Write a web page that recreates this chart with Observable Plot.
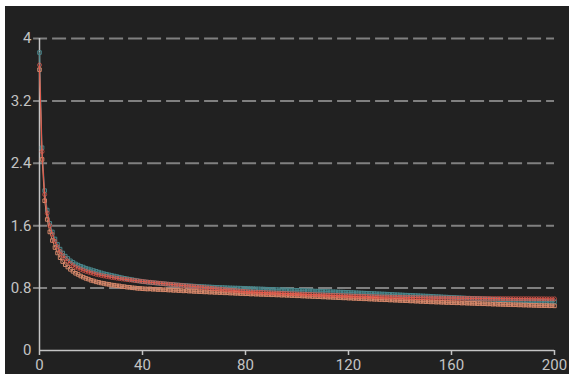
<!DOCTYPE html>
<html>
<head>
<meta charset="utf-8">
<script src="https://cdn.jsdelivr.net/npm/d3@7"></script>
<script src="https://cdn.jsdelivr.net/npm/@observablehq/plot@0.6"></script>
<style>
  html, body { margin: 0; padding: 0; background: #ffffff; }
  #chart { position: absolute; left: 5px; top: 6px; width: 564px; height: 368px; background: #212121; }
  #chart svg { display: block; background: #212121; }
</style>
</head>
<body>
<div id="chart"></div>
<script>
const xTicks = [0, 40, 80, 120, 160, 200];
const yTicks = [0, 0.8, 1.6, 2.4, 3.2, 4];

const tealLoss = [
  3.82, 2.60, 2.05, 1.80, 1.63, 1.52, 1.43, 1.36, 1.30, 1.25, 1.21,
  1.18, 1.15, 1.13, 1.11, 1.095, 1.08, 1.07, 1.055, 1.045, 1.035,
  1.025, 1.015, 1.005, 0.995, 0.985, 0.978, 0.97, 0.962, 0.955, 0.948,
  0.94, 0.933, 0.926, 0.92, 0.914, 0.908, 0.902, 0.896, 0.89, 0.884,
  0.88, 0.876, 0.873, 0.869, 0.866, 0.862, 0.859, 0.856, 0.853, 0.85,
  0.847, 0.845, 0.842, 0.84, 0.837, 0.835, 0.832, 0.83, 0.828, 0.826,
  0.824, 0.822, 0.82, 0.818, 0.816, 0.815, 0.813, 0.811, 0.81, 0.808,
  0.807, 0.806, 0.804, 0.803, 0.802, 0.801, 0.80, 0.799, 0.798, 0.797,
  0.795, 0.794, 0.793, 0.791, 0.79, 0.789, 0.788, 0.786, 0.785, 0.784,
  0.783, 0.781, 0.78, 0.779, 0.778, 0.776, 0.775, 0.774, 0.773, 0.772,
  0.77, 0.769, 0.768, 0.766, 0.765, 0.764, 0.762, 0.761, 0.76, 0.758,
  0.757, 0.756, 0.754, 0.753, 0.752, 0.75, 0.749, 0.748, 0.746, 0.745,
  0.743, 0.742, 0.74, 0.739, 0.737, 0.736, 0.734, 0.733, 0.731, 0.73, 0.728, 0.727,
  0.725, 0.724, 0.722, 0.72, 0.719, 0.717, 0.715, 0.714, 0.712, 0.71, 0.709, 0.707, 0.706, 0.704, 0.703, 0.701, 0.70, 0.698,
  0.697, 0.695, 0.693, 0.691, 0.69, 0.688, 0.686, 0.685, 0.683, 0.681, 0.68, 0.678, 0.676, 0.675, 0.673, 0.671, 0.67,
  0.668, 0.667, 0.665, 0.664, 0.662, 0.661, 0.659, 0.658, 0.656, 0.655, 0.653, 0.652, 0.65,
  0.649, 0.648, 0.646, 0.645, 0.644, 0.642, 0.641, 0.64, 0.639, 0.637, 0.636, 0.635, 0.634, 0.632, 0.631, 0.63, 0.629, 0.627, 0.626, 0.625
];

const redLoss = [
  3.66, 2.55, 2.00, 1.76, 1.60, 1.49, 1.40, 1.33, 1.27, 1.22, 1.18,
  1.145, 1.115, 1.09, 1.07, 1.055, 1.04, 1.027, 1.015, 1.005, 0.995,
  0.986, 0.977, 0.969, 0.962, 0.955, 0.949, 0.943, 0.937, 0.932, 0.927,
  0.922, 0.917, 0.913, 0.909, 0.905, 0.901, 0.897, 0.893, 0.889, 0.885,
  0.882, 0.878, 0.875, 0.871, 0.868, 0.865, 0.861, 0.858, 0.855, 0.851,
  0.848, 0.845, 0.841, 0.838, 0.835, 0.832, 0.829, 0.826, 0.823, 0.82,
  0.817, 0.813, 0.81, 0.807, 0.803, 0.8, 0.797, 0.793, 0.79, 0.787,
  0.784, 0.78, 0.777, 0.774, 0.771, 0.768, 0.765, 0.762, 0.759, 0.756,
  0.754, 0.752, 0.75, 0.749, 0.747, 0.745, 0.744, 0.742, 0.741, 0.739,
  0.738, 0.736, 0.735, 0.733, 0.732, 0.731, 0.729, 0.728, 0.727, 0.725,
  0.724, 0.723, 0.721, 0.72, 0.719, 0.718, 0.716, 0.715, 0.714, 0.713,
  0.711, 0.71, 0.709, 0.708, 0.707, 0.706, 0.704, 0.703, 0.702, 0.70,
  0.699, 0.698, 0.697, 0.696, 0.695, 0.694, 0.693, 0.692, 0.691, 0.69,
  0.689, 0.688, 0.687, 0.686, 0.686, 0.685, 0.684, 0.683, 0.683, 0.682,
  0.681, 0.68, 0.68, 0.679, 0.679, 0.678, 0.677, 0.677, 0.676, 0.676,
  0.675, 0.675, 0.674, 0.674, 0.673, 0.673, 0.672, 0.672, 0.671, 0.671,
  0.671, 0.67, 0.67, 0.67, 0.669, 0.669, 0.669, 0.668, 0.668, 0.668,
  0.668, 0.667, 0.667, 0.667, 0.667, 0.666, 0.666, 0.666, 0.666, 0.665,
  0.665, 0.665, 0.665, 0.665, 0.664, 0.664, 0.664, 0.664, 0.664, 0.664,
  0.663, 0.663, 0.663, 0.663, 0.663, 0.663, 0.662, 0.662, 0.662, 0.662
];

const orangeLoss = [
  3.60, 2.45, 1.92, 1.68, 1.52, 1.41, 1.32, 1.25, 1.19, 1.14, 1.10,
  1.07, 1.04, 1.015, 0.99, 0.975, 0.955, 0.94, 0.925, 0.915, 0.90,
  0.892, 0.88, 0.874, 0.865, 0.86, 0.852, 0.848, 0.84, 0.837, 0.83,
  0.828, 0.82, 0.818, 0.812, 0.81, 0.804, 0.802, 0.797, 0.796, 0.792,
  0.79, 0.788, 0.79, 0.785, 0.786, 0.781, 0.783, 0.778, 0.779, 0.775,
  0.776, 0.771, 0.773, 0.768, 0.769, 0.764, 0.766, 0.761, 0.762, 0.757,
  0.758, 0.754, 0.755, 0.751, 0.752, 0.748, 0.749, 0.745, 0.746, 0.742,
  0.743, 0.739, 0.74, 0.736, 0.737, 0.733, 0.734, 0.73, 0.731, 0.727,
  0.728, 0.724, 0.726, 0.722, 0.723, 0.719, 0.721, 0.717, 0.718, 0.714,
  0.716, 0.712, 0.713, 0.709, 0.711, 0.707, 0.708, 0.704, 0.705, 0.701,
  0.702, 0.698, 0.699, 0.695, 0.696, 0.692, 0.693, 0.689, 0.69, 0.686,
  0.687, 0.683, 0.684, 0.68, 0.681, 0.677, 0.678, 0.674, 0.675, 0.671,
  0.672, 0.668, 0.669, 0.665, 0.666, 0.662, 0.663, 0.659, 0.66, 0.656,
  0.657, 0.653, 0.654, 0.65, 0.651, 0.647, 0.648, 0.644, 0.645, 0.641,
  0.642, 0.638, 0.639, 0.635, 0.636, 0.632, 0.633, 0.629, 0.63, 0.626,
  0.627, 0.623, 0.624, 0.62, 0.622, 0.618, 0.619, 0.615, 0.617, 0.613,
  0.614, 0.611, 0.612, 0.608, 0.61, 0.606, 0.607, 0.604, 0.605, 0.601,
  0.603, 0.599, 0.6, 0.597, 0.598, 0.594, 0.596, 0.592, 0.593, 0.59,
  0.591, 0.588, 0.589, 0.586, 0.587, 0.584, 0.585, 0.582, 0.583, 0.58,
  0.581, 0.578, 0.579, 0.576, 0.577, 0.575, 0.576, 0.573, 0.574, 0.572
];

const toRows = (arr) => arr.map((v, i) => ({epoch: i, loss: v}));
const teal = toRows(tealLoss);
const red = toRows(redLoss);
const orange = toRows(orangeLoss);

const cTeal = "#4a878c";
const cRed = "#e4584b";
const cOrange = "#d4876a";
const axisColor = "#c4c4c4";
const fmt = d => String(d);

const plot = Plot.plot({
  width: 564,
  height: 368,
  marginLeft: 34,
  marginRight: 15,
  marginTop: 32,
  marginBottom: 24,
  style: {background: "#212121", color: axisColor, fontFamily: "Roboto, 'Open Sans', sans-serif", fontSize: "15px"},
  x: {domain: [0, 200], ticks: xTicks, label: null},
  y: {domain: [0, 4], ticks: yTicks, label: null},
  marks: [
    Plot.ruleY(yTicks.filter(d => d > 0), {x1: -2.3, x2: 200, stroke: "#808080", strokeWidth: 2, strokeDasharray: "14,5", clip: false}),
    Plot.axisX({ticks: xTicks, tickFormat: fmt, tickSize: 5, tickPadding: 4, stroke: axisColor, fill: axisColor, strokeWidth: 1.5, fontSize: 15}),
    Plot.axisY({ticks: yTicks, tickFormat: fmt, tickSize: 0, tickPadding: 8, fill: axisColor, fontSize: 15}),
    Plot.ruleX([0], {y1: 0, y2: 4, stroke: axisColor, strokeWidth: 1.5}),
    Plot.ruleY([0], {stroke: axisColor, strokeWidth: 1.5}),
    Plot.line(teal, {x: "epoch", y: "loss", stroke: cTeal, strokeWidth: 1}),
    Plot.dot(teal, {x: "epoch", y: "loss", symbol: "square", r: 2, stroke: cTeal, strokeWidth: 1, fill: "none"}),
    Plot.line(orange, {x: "epoch", y: "loss", stroke: cOrange, strokeWidth: 1}),
    Plot.dot(orange, {x: "epoch", y: "loss", symbol: "square", r: 2, stroke: cOrange, strokeWidth: 1, fill: "none"}),
    Plot.line(red, {x: "epoch", y: "loss", stroke: cRed, strokeWidth: 1}),
    Plot.dot(red, {x: "epoch", y: "loss", symbol: "circle", r: 2, stroke: cRed, strokeWidth: 0.7, fill: "none"})
  ]
});
document.getElementById("chart").appendChild(plot);
</script>
</body>
</html>
